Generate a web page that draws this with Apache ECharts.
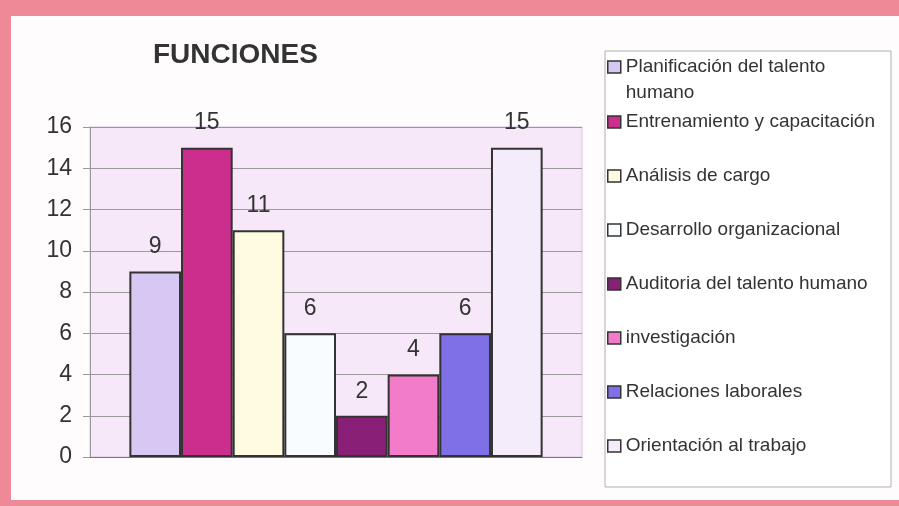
<!DOCTYPE html>
<html>
<head>
<meta charset="utf-8">
<script src="https://cdn.jsdelivr.net/npm/echarts@6/dist/echarts.min.js"></script>
<style>
  html, body { margin: 0; padding: 0; }
  body { width: 899px; height: 506px; background: #ee8a97; position: relative; overflow: hidden; }
  .panel { position: absolute; left: 11px; top: 16px; width: 888px; height: 484px; background: #fefcfd; }
  #chart { position: absolute; left: 0; top: 0; width: 899px; height: 506px; }
</style>
</head>
<body>
<div class="panel"></div>
<div id="chart"></div>
<script>
// funciones y cantidad
var categories = ['FUNCIONES'];
var seriesNames = [
  'Planificación del talento humano',
  'Entrenamiento y capacitación',
  'Análisis de cargo',
  'Desarrollo organizacional',
  'Auditoria del talento humano',
  'investigación',
  'Relaciones laborales',
  'Orientación al trabajo'
];
var seriesValues = [9, 15, 11, 6, 2, 4, 6, 15];
var yTicks = [0, 2, 4, 6, 8, 10, 12, 14, 16];

var colors = ['#d6c8f2', '#cc2e8e', '#fffbe0', '#f9fcff', '#8a1f78', '#f27cc9', '#7f70e8', '#f4ecfa'];

var myChart = echarts.init(document.getElementById('chart'));

var series = [];
for (var i = 0; i < seriesNames.length; i++) {
  series.push({
    name: seriesNames[i],
    type: 'bar',
    barGap: 0,
    barCategoryGap: '16%',
    data: [seriesValues[i]],
    itemStyle: { color: colors[i], borderColor: '#333', borderWidth: 2 },
    label: {
      show: true,
      position: 'top',
      distance: 13,
      fontFamily: 'Liberation Sans',
      fontSize: 23,
      color: '#333'
    }
  });
}

myChart.setOption({
  animation: false,
  backgroundColor: 'transparent',
  color: colors,
  title: {
    text: 'FUNCIONES',
    left: 148,
    top: 36,
    textStyle: { fontFamily: 'Liberation Sans', fontSize: 28, fontWeight: 'bold', color: '#333' }
  },
  graphic: [{
    type: 'rect',
    shape: { x: 605, y: 51, width: 286, height: 436 },
    style: { fill: '#ffffff', stroke: '#b0b0b0', lineWidth: 1 },
    z: -1
  }],
  legend: [{
    data: [seriesNames[0]],
    orient: 'vertical',
    left: 607,
    top: 28,
    padding: 0,
    icon: 'rect',
    itemWidth: 13,
    itemHeight: 12,
    itemStyle: { borderColor: '#333', borderWidth: 1.5 },
    formatter: function () { return ' \nPlanificación del talento\nhumano'; },
    textStyle: { fontFamily: 'Liberation Sans', fontSize: 19, lineHeight: 26, color: '#333' }
  }, {
    data: seriesNames.slice(1),
    orient: 'vertical',
    left: 607,
    top: 112,
    padding: 0,
    itemGap: 34,
    icon: 'rect',
    itemWidth: 13,
    itemHeight: 12,
    itemStyle: { borderColor: '#333', borderWidth: 1.5 },
    textStyle: { fontFamily: 'Liberation Sans', fontSize: 19, lineHeight: 20, color: '#333' }
  }],
  grid: {
    left: 90,
    top: 127,
    width: 492,
    height: 330,
    show: true,
    backgroundColor: '#f6e8f8',
    borderColor: '#dcc2e8',
    borderWidth: 1
  },
  xAxis: {
    type: 'category',
    data: categories,
    axisLabel: { show: false },
    axisTick: { show: false },
    axisLine: { lineStyle: { color: '#777', width: 1 } }
  },
  yAxis: {
    type: 'value',
    min: yTicks[0],
    max: yTicks[yTicks.length - 1],
    interval: 2,
    axisLine: { show: true, lineStyle: { color: '#999' } },
    axisTick: { show: true, length: 7, lineStyle: { color: '#999' } },
    splitLine: { lineStyle: { color: '#9a9a9a', width: 1 } },
    axisLabel: { margin: 18, fontFamily: 'Liberation Sans', fontSize: 23, color: '#333' }
  },
  series: series
});
</script>
</body>
</html>
